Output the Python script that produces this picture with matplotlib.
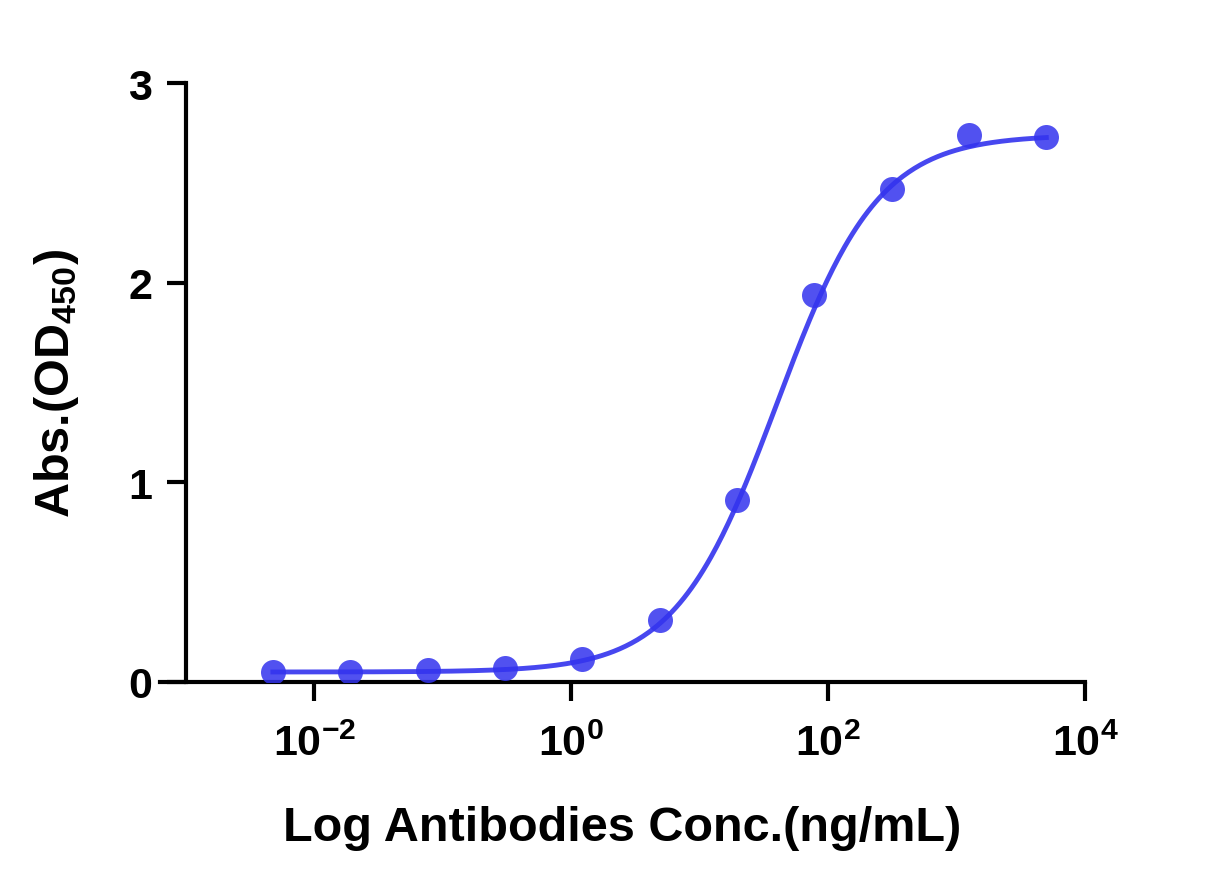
import numpy as np
import matplotlib
matplotlib.use('Agg')
from matplotlib import pyplot as plt

plt.rcParams['font.family'] = 'Liberation Sans'
plt.rcParams['font.weight'] = 'bold'
plt.rcParams['mathtext.fontset'] = 'custom'
plt.rcParams['mathtext.rm'] = 'Liberation Sans:bold'
plt.rcParams['mathtext.bf'] = 'Liberation Sans:bold'
plt.rcParams['mathtext.it'] = 'Liberation Sans:bold'
plt.rcParams['mathtext.default'] = 'bf'
plt.rcParams['axes.unicode_minus'] = False

# 4-fold dilution series (ng/mL) and measured OD450
conc = [0.00477, 0.0191, 0.0763, 0.305, 1.22, 4.88, 19.5, 78.1, 312.5, 1250, 5000]
od450 = [0.05, 0.05, 0.06, 0.07, 0.115, 0.31, 0.91, 1.94, 2.47, 2.74, 2.73]

# fitted 4PL parameters
fit_bottom = 0.05
fit_top = 2.74
fit_ec50 = 40.0
fit_hill = 1.1

color = '#3333ee'

fig = plt.figure(figsize=(12.27, 8.87), dpi=100)
ax = fig.add_axes([160 / 1227, 1 - 683 / 887, (1085 - 160) / 1227, (683 - 84) / 887])

xs = np.logspace(np.log10(conc[0]), np.log10(conc[-1]), 400)
ys = fit_bottom + (fit_top - fit_bottom) / (1 + (fit_ec50 / xs) ** fit_hill)
ax.plot(xs, ys, color=color, lw=3.5, alpha=0.9, zorder=2)
ax.plot(conc, od450, 'o', color=color, ms=18, alpha=0.85, mec='none', zorder=3)

ax.set_xscale('log')
ax.set_xlim(10 ** -3.2, 1e4)
ax.set_ylim(0, 3)
ax.set_xticks([1e-2, 1e0, 1e2, 1e4])
ax.xaxis.set_minor_locator(matplotlib.ticker.NullLocator())
ax.set_yticks([0, 1, 2, 3])

for s in ['top', 'right']:
    ax.spines[s].set_visible(False)
ax.spines['left'].set_position(('data', 10 ** -3.0))
ax.spines['left'].set_linewidth(3)
ax.spines['bottom'].set_linewidth(3)
ax.tick_params(axis='both', width=3, length=14, labelsize=31, pad=10)
ax.tick_params(axis='x', pad=16)

ax.set_xlabel('Log Antibodies Conc.(ng/mL)', fontsize=35, fontweight='bold')
ax.xaxis.set_label_coords(0.5, -0.205)
ax.set_ylabel(r'Abs.(OD$_{450}$)', fontsize=35, fontweight='bold')
ax.yaxis.set_label_coords(-0.085, 0.5)

fig.savefig('out.png', dpi=100)
